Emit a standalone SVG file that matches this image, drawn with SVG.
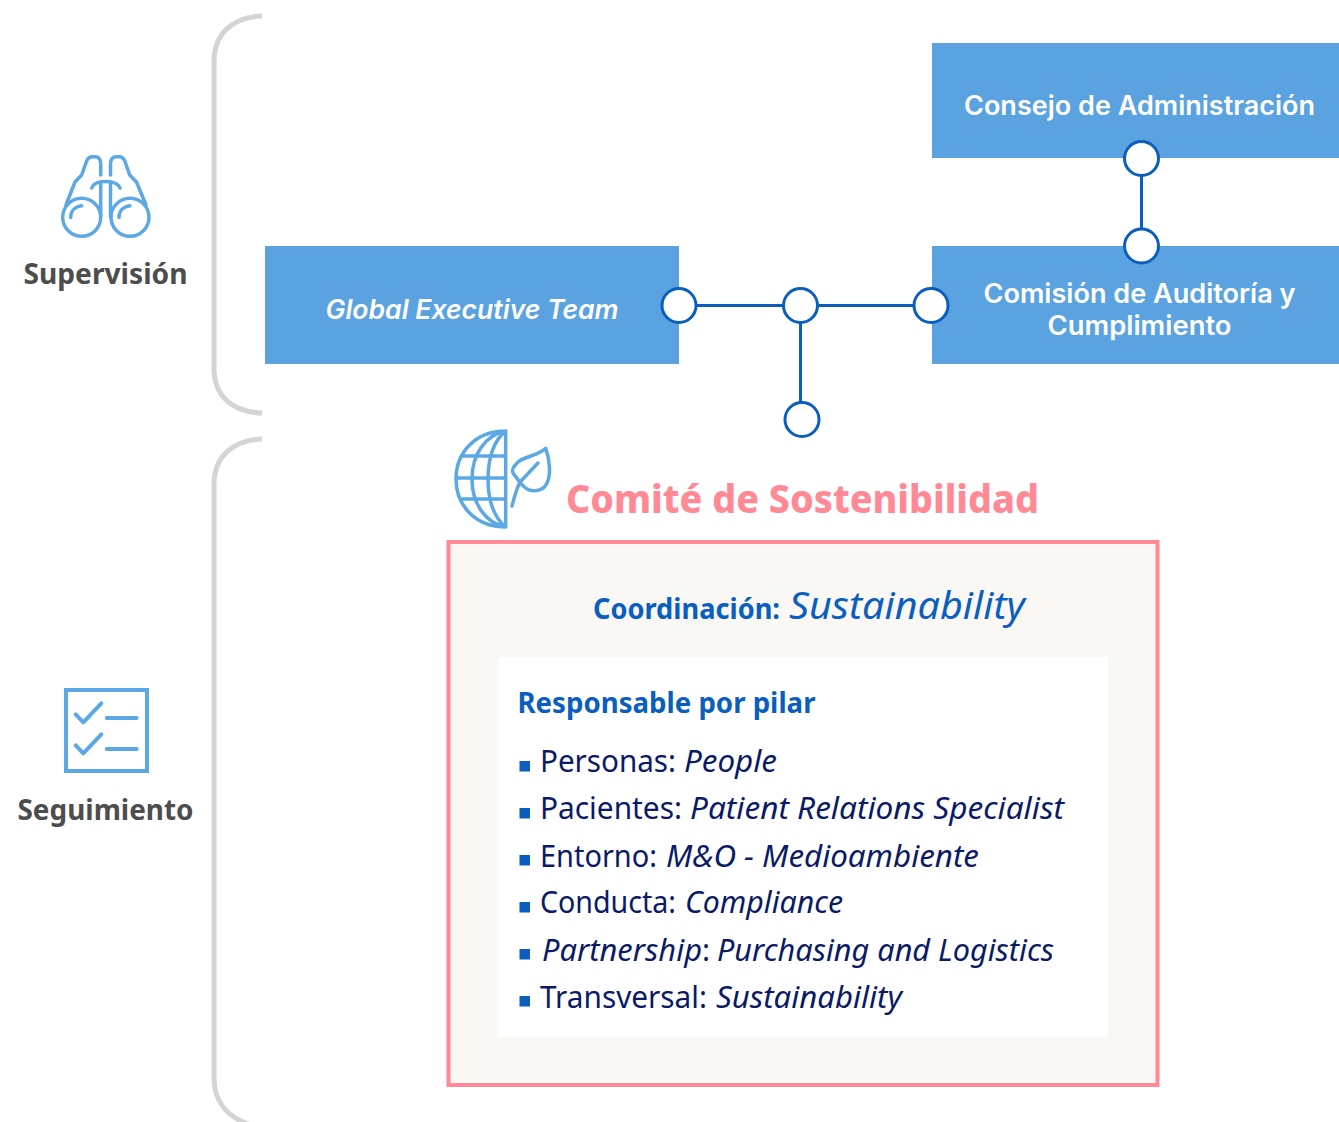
<svg xmlns="http://www.w3.org/2000/svg" width="1339" height="1122" viewBox="0 0 1339 1122">
<style>
.box{fill:#5ba3e0}
.bt{font-family:"Inter","Liberation Sans",sans-serif;font-weight:600;font-size:26.500px;fill:#fff;text-anchor:middle}
.dot{fill:#fff;stroke:#0a5fbe;stroke-width:3}
.wire{stroke:#0a5fbe;stroke-width:3;fill:none}
.brace{fill:none;stroke:#d4d4d4;stroke-width:5}
.ic{fill:none;stroke:#5ba8e4;stroke-width:3.500;stroke-linecap:round;stroke-linejoin:round}
.side{font-family:"Noto Sans","Liberation Sans",sans-serif;font-weight:700;font-size:28px;fill:#4d4d4d;text-anchor:middle}
.li{font-family:"Noto Sans","Liberation Sans",sans-serif;font-size:30px;fill:#0b1a66}
.i{font-style:italic}
.sq{fill:#0a5fbe}
.h{font-family:"Noto Sans","Liberation Sans",sans-serif;fill:#0a5fbe}
</style>
<g id="brace-supervision"><path class="brace" d="M262 16C232 17 214 34 214 62V368C214 396 232 412 262 413"/></g>
<g id="brace-seguimiento"><path class="brace" d="M262 439C232 440 214 457 214 485V1078C214 1100 226 1116 248 1124"/></g>
<g id="supervision">
<g class="ic">
<circle cx="81.700" cy="217.300" r="19"/><circle cx="130" cy="217.300" r="19"/>
<path d="M70.700 217.500C70.700 211 75 206.500 81.700 205.700M119 217.500C119 211 123.300 206.500 130 205.700"/>
<path d="M100.700 175V164C100.700 159 98.500 156.800 94.700 156.800H92.700C89.500 156.800 87.500 158.500 86.500 161.500L81.700 175L75 182L66 205"/>
<path d="M110.500 175V164C110.500 159 112.700 156.800 116.500 156.800H119C122 156.800 124 158.500 125 161.500L129.700 175L136.500 182L146 205"/>
<path d="M100.700 217V182M110.500 217V182M91.700 188C93 184 97 181.500 105.500 181.500C114 181.500 118.500 184 120 188"/>
</g>
<text class="side" x="105.500" y="284" textLength="164" lengthAdjust="spacingAndGlyphs">Supervisión</text>
</g>
<g id="seguimiento">
<rect x="66" y="690" width="81" height="81" fill="none" stroke="#5ba8e4" stroke-width="4"/>
<g class="ic" style="stroke-width:4">
<path d="M75.700 714.300L83.300 722.300L101.300 703.300M75.700 745.300L83.300 753.300L101.300 734.300M106.700 718H136.700M106.700 749H136.700"/>
</g>
<text class="side" x="105.500" y="820" textLength="176" lengthAdjust="spacingAndGlyphs">Seguimiento</text>
</g>
<g id="consejo"><rect class="box" x="932" y="43" width="407" height="115"/><text class="bt" x="1139.500" y="115" textLength="351" lengthAdjust="spacingAndGlyphs">Consejo de Administración</text></g>
<g id="comision"><rect class="box" x="932" y="246" width="407" height="118"/><text class="bt" x="1139.500" y="303" textLength="312" lengthAdjust="spacingAndGlyphs">Comisión de Auditoría y</text><text class="bt" x="1139.500" y="335" textLength="184" lengthAdjust="spacingAndGlyphs">Cumplimiento</text></g>
<g id="get"><rect class="box" x="265" y="246" width="414" height="118"/><text class="bt" x="472" y="319" font-style="italic" textLength="293" lengthAdjust="spacingAndGlyphs">Global Executive Team</text></g>
<g id="connectors">
<path class="wire" d="M679 305.500H931M800.500 305.500V419M1141.500 158V246"/>
<circle class="dot" cx="679" cy="305.500" r="17"/><circle class="dot" cx="800.500" cy="305.500" r="17"/><circle class="dot" cx="931" cy="305.500" r="17"/><circle class="dot" cx="802" cy="419.500" r="17"/><circle class="dot" cx="1141.500" cy="158.500" r="17"/><circle class="dot" cx="1141.500" cy="246" r="17"/>
</g>
<g id="comite">
<g class="ic">
<path d="M505.700 431V527M505.700 431C475 431 456 453 456 479C456 505 475 527 505.700 527M505.700 431C485 435 472 455 472 479C472 503 485 523 505.700 527M505.700 431C494 440 488 458 488 479C488 500 494 518 505.700 527M462 456H505.700M456 478H505.700M462 499H505.700"/>
<path d="M545.700 448.300C538 456 525 456 518 462C514 466 511 470 513 473C518 480 523 488 529 490C536 492 544 490 547 483C551 475 550 460 545.700 448.300ZM538 463L520 482C516 490 514 498 512 506"/>
</g>
<text x="802.500" y="513" text-anchor="middle" font-family="Noto Sans,Liberation Sans,sans-serif" font-weight="800" font-size="39" fill="#ff8a96" textLength="473" lengthAdjust="spacingAndGlyphs">Comité de Sostenibilidad</text>
</g>
<g id="panel">
<rect x="448.500" y="542" width="709" height="543" fill="#f9f8f5" stroke="#ff8a96" stroke-width="4"/>
<rect x="498" y="657" width="610" height="380" fill="#fff"/>
<text class="h" x="593" y="619" font-weight="700" font-size="28" textLength="187" lengthAdjust="spacingAndGlyphs">Coordinación:</text>
<text class="h i" x="789" y="619" font-size="39" textLength="236" lengthAdjust="spacingAndGlyphs">Sustainability</text>
<text class="h" x="517.500" y="713" font-weight="700" font-size="28" textLength="298" lengthAdjust="spacingAndGlyphs">Responsable por pilar</text>
<rect class="sq" x="519.500" y="761" width="10.500" height="10.500"/><rect class="sq" x="519.500" y="808" width="10.500" height="10.500"/><rect class="sq" x="519.500" y="855" width="10.500" height="10.500"/><rect class="sq" x="519.500" y="902" width="10.500" height="10.500"/><rect class="sq" x="519.500" y="949" width="10.500" height="10.500"/><rect class="sq" x="519.500" y="996" width="10.500" height="10.500"/>
<text class="li" x="540" y="772" textLength="136" lengthAdjust="spacingAndGlyphs">Personas:</text><text class="li i" x="684" y="772" textLength="93" lengthAdjust="spacingAndGlyphs">People</text>
<text class="li" x="540" y="819" textLength="142" lengthAdjust="spacingAndGlyphs">Pacientes:</text><text class="li i" x="690" y="819" textLength="374" lengthAdjust="spacingAndGlyphs">Patient Relations Specialist</text>
<text class="li" x="540" y="866.500" textLength="117" lengthAdjust="spacingAndGlyphs">Entorno:</text><text class="li i" x="666" y="866.500" textLength="313" lengthAdjust="spacingAndGlyphs">M&amp;O - Medioambiente</text>
<text class="li" x="540" y="913" textLength="136" lengthAdjust="spacingAndGlyphs">Conducta:</text><text class="li i" x="685" y="913" textLength="158" lengthAdjust="spacingAndGlyphs">Compliance</text>
<text class="li i" x="542" y="960.500" textLength="160" lengthAdjust="spacingAndGlyphs">Partnership</text><text class="li" x="702" y="960.500">:</text><text class="li i" x="717" y="960.500" textLength="337" lengthAdjust="spacingAndGlyphs">Purchasing and Logistics</text>
<text class="li" x="540" y="1007.500" textLength="167" lengthAdjust="spacingAndGlyphs">Transversal:</text><text class="li i" x="716" y="1007.500" textLength="186" lengthAdjust="spacingAndGlyphs">Sustainability</text>
</g>
</svg>
